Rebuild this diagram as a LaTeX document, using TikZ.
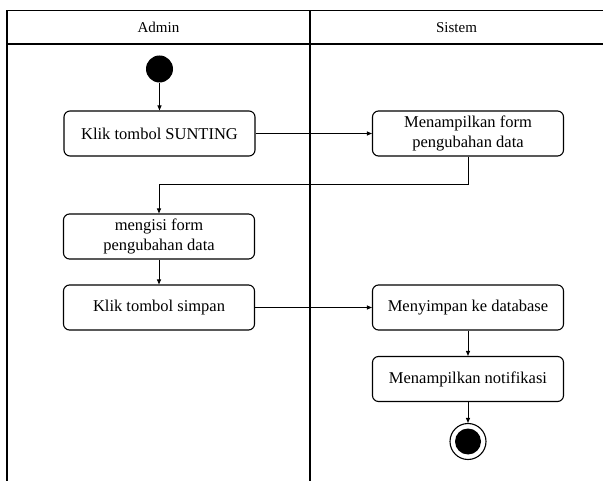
\documentclass[tikz,border=0pt]{standalone}
\usepackage{fontspec}
\setmainfont{Liberation Serif}
\usetikzlibrary{arrows.meta}
\begin{document}
\begin{tikzpicture}[x=1pt,y=-1pt,
  frame/.style={line width=1.4pt},
  action/.style={draw, line width=1.1pt, rounded corners=6pt, minimum width=191pt,
    minimum height=45pt, inner sep=2pt, align=center,
    font=\fontsize{16.5}{19.5}\selectfont},
  flow/.style={line width=0.9pt, -{Triangle[length=5pt,width=4pt]}},
  lane/.style={font=\fontsize{15}{18}\selectfont}]
\useasboundingbox (0,0) rectangle (603,481);

% swimlane frame
\draw[frame] (7,10.5) -- (603,10.5);
\draw[frame] (7,44) -- (603,44);
\draw[frame] (7,10.5) -- (7,481);
\draw[frame] (310,10.5) -- (310,481);
\node[lane] (admin) at (158.5,27.5) {Admin};
\node[lane] (sistem) at (456.5,27.5) {Sistem};

% start node
\node[circle, fill=black, minimum size=27pt, inner sep=0pt] (start) at (159.5,69) {};

% actions
\node[action] (sunting) at (159.5,133.5) {Klik tombol SUNTING};
\node[action] (tampilform) at (468,133.5) {Menampilkan form\\pengubahan data};
\node[action] (isiform) at (159,236.5) {mengisi form\\pengubahan data};
\node[action] (simpan) at (159,307.5) {Klik tombol simpan};
\node[action] (menyimpan) at (468,307.5) {Menyimpan ke database};
\node[action] (notif) at (468,379) {Menampilkan notifikasi};

% end node
\node[circle, draw, line width=1.1pt, minimum size=36pt, inner sep=0pt] (end) at (468,441.5) {};
\fill (end.center) circle (13pt);

% transitions
\draw[flow] (start) -- (sunting);
\draw[flow] (sunting) -- (tampilform);
\draw[flow] (tampilform.south) |- (159,184) -- (isiform.north);
\draw[flow] (isiform) -- (simpan);
\draw[flow] (simpan) -- (menyimpan);
\draw[flow] (menyimpan) -- (notif);
\draw[flow] (notif) -- (end);
\end{tikzpicture}
\end{document}
